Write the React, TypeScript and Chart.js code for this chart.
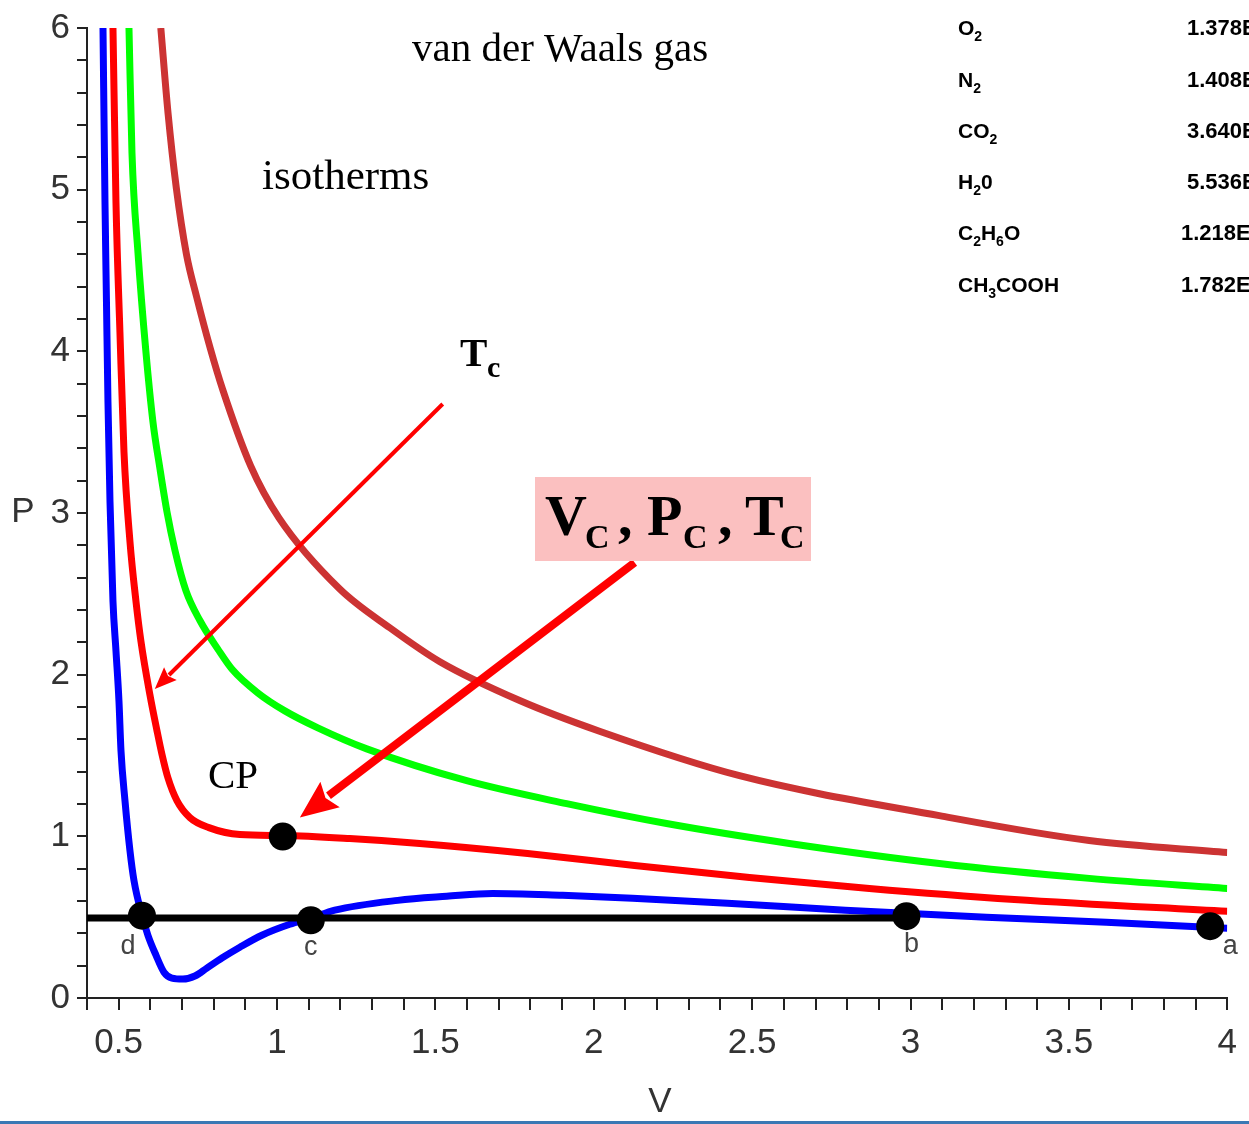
import React, { useEffect, useRef } from 'react';
import { Chart, registerables } from 'chart.js';

Chart.register(...registerables);

// ---------- data (reduced volume V, reduced pressure P) ----------
const blueV = [0.4505, 0.4568, 0.4615, 0.4662, 0.4726, 0.482, 0.4915, 0.5009, 0.5073, 0.5199, 0.5356, 0.5483, 0.5735, 0.5924, 0.6177, 0.6429, 0.6681, 0.7028, 0.7407, 0.7785, 0.8259, 0.8826, 0.9521, 1.0404, 1.1066, 1.1823, 1.3811, 1.5356, 1.6808, 1.9016, 2.1224, 2.4221, 2.7943, 3.2391, 3.6177, 4.0];
const blueP = [6.0, 4.92, 4.303, 3.687, 3.07, 2.454, 2.146, 1.837, 1.529, 1.221, 0.912, 0.727, 0.512, 0.388, 0.265, 0.16, 0.123, 0.117, 0.136, 0.185, 0.247, 0.314, 0.388, 0.456, 0.493, 0.543, 0.604, 0.629, 0.647, 0.635, 0.617, 0.586, 0.543, 0.499, 0.469, 0.432];

const redV = [0.482, 0.4915, 0.504, 0.5167, 0.5356, 0.5546, 0.5703, 0.5987, 0.6208, 0.6366, 0.6555, 0.6839, 0.7249, 0.7849, 0.8826, 1.0183, 1.2296, 1.4505, 1.7912, 2.1287, 2.4915, 2.87, 3.3274, 4.0];
const redP = [6.0, 4.92, 4.118, 3.379, 2.824, 2.454, 2.207, 1.875, 1.655, 1.508, 1.362, 1.221, 1.116, 1.054, 1.011, 1.005, 0.986, 0.956, 0.894, 0.82, 0.746, 0.678, 0.61, 0.536];

const greenV = [0.5325, 0.542, 0.5609, 0.5861, 0.6082, 0.6303, 0.6524, 0.6776, 0.7123, 0.7565, 0.8132, 0.8574, 0.9394, 1.0246, 1.1287, 1.2833, 1.5987, 1.9142, 2.2297, 2.6177, 3.0909, 3.564, 4.0];
const greenP = [6.0, 5.228, 4.612, 3.995, 3.564, 3.274, 3.009, 2.77, 2.52, 2.335, 2.158, 2.035, 1.887, 1.776, 1.671, 1.541, 1.344, 1.202, 1.079, 0.956, 0.832, 0.74, 0.678];

const brownV = [0.633, 0.656, 0.682, 0.714, 0.747, 0.789, 0.829, 0.917, 1.006, 1.198, 1.356, 1.514, 1.766, 2.018, 2.46, 3.091, 3.564, 4.0];
const brownP = [6.0, 5.47, 5.01, 4.6, 4.33, 4.02, 3.76, 3.29, 2.97, 2.53, 2.29, 2.08, 1.84, 1.65, 1.375, 1.128, 0.974, 0.9];

const tieLineV = [0.4, 2.987];
const tieLineP = [0.495, 0.495];

const markerV = [0.5735, 1.1066, 1.018, 2.987, 3.946];
const markerP = [0.509, 0.481, 0.999, 0.506, 0.444];
const markerNames = ['d', 'c', '', 'b', 'a'];

const xLabelValues = [0.5, 1, 1.5, 2, 2.5, 3, 3.5, 4];
const yLabelValues = [0, 1, 2, 3, 4, 5, 6];

const gasNames: { t: string; sub?: boolean }[][] = [
  [{ t: 'O' }, { t: '2', sub: true }],
  [{ t: 'N' }, { t: '2', sub: true }],
  [{ t: 'CO' }, { t: '2', sub: true }],
  [{ t: 'H' }, { t: '2', sub: true }, { t: '0' }],
  [{ t: 'C' }, { t: '2', sub: true }, { t: 'H' }, { t: '6', sub: true }, { t: 'O' }],
  [{ t: 'CH' }, { t: '3', sub: true }, { t: 'COOH' }],
];
const gasValues = ['1.378E', '1.408E', '3.640E', '5.536E', '1.218E', '1.782E'];

// ---------- styles / layout (not data) ----------
const SANS = '"Liberation Sans", Arial, sans-serif';
const SERIF = '"Liberation Serif", "Times New Roman", serif';
const AXIS_COLOR = '#222';
const TEXT_COLOR = '#333';
const markerLabelOffsets: [number, number][] = [[-14, 31], [0, 27], [0, 0], [5, 28], [20, 20]];
const gasRowBaselines = [35, 87, 138, 189, 240, 292];
const gasValueX = [1187, 1187, 1187, 1187, 1181, 1181];

const toPoints = (xs: number[], ys: number[]) => xs.map((x, i) => ({ x, y: ys[i] }));

function drawRich(ctx: CanvasRenderingContext2D, x: number, y: number, parts: { t: string; sub?: boolean }[], mainFont: string, subFont: string, subDy: number) {
  let cx = x;
  for (const p of parts) {
    ctx.font = p.sub ? subFont : mainFont;
    ctx.fillText(p.t, cx, p.sub ? y + subDy : y);
    cx += ctx.measureText(p.t).width;
  }
}

function arrow(ctx: CanvasRenderingContext2D, x1: number, y1: number, x2: number, y2: number, width: number, headLen: number, headWidth: number, color: string) {
  const ang = Math.atan2(y2 - y1, x2 - x1);
  const c = Math.cos(ang), s = Math.sin(ang);
  const bx = x2 - headLen * c, by = y2 - headLen * s;
  ctx.strokeStyle = color;
  ctx.lineWidth = width;
  ctx.lineCap = 'butt';
  ctx.beginPath();
  ctx.moveTo(x1, y1);
  ctx.lineTo(bx + 2 * c, by + 2 * s);
  ctx.stroke();
  ctx.fillStyle = color;
  ctx.beginPath();
  ctx.moveTo(x2, y2);
  ctx.lineTo(bx + (headWidth / 2) * s, by - (headWidth / 2) * c);
  ctx.lineTo(bx + headLen * 0.15 * c, by + headLen * 0.15 * s);
  ctx.lineTo(bx - (headWidth / 2) * s, by + (headWidth / 2) * c);
  ctx.closePath();
  ctx.fill();
}

const annotationPlugin = {
  id: 'vdwAnnotations',
  afterDraw(chart: any) {
    const ctx: CanvasRenderingContext2D = chart.ctx;
    const xs = chart.scales.x;
    const ys = chart.scales.y;
    const px = (v: number) => xs.getPixelForValue(v);
    const py = (p: number) => ys.getPixelForValue(p);
    ctx.save();

    // bottom rule
    ctx.fillStyle = '#3a78b4';
    ctx.fillRect(0, 1121, 1249, 3);

    // axis titles
    ctx.fillStyle = TEXT_COLOR;
    ctx.font = `35px ${SANS}`;
    ctx.textAlign = 'center';
    ctx.textBaseline = 'middle';
    ctx.fillText('P', 23, 512);
    ctx.fillText('V', 660, 1102);

    // marker letters
    ctx.font = `27px ${SANS}`;
    ctx.fillStyle = '#444';
    markerNames.forEach((n, i) => {
      if (!n) return;
      const [dx, dy] = markerLabelOffsets[i];
      ctx.fillText(n, px(markerV[i]) + dx, py(markerP[i]) + dy);
    });

    // arrows
    arrow(ctx, px(1.523), py(3.674), px(0.614), py(1.911), 4, 22, 18, '#ff0000');
    arrow(ctx, px(2.129), py(2.694), px(1.072), py(1.116), 8, 38, 32, '#ff0000');

    // serif annotations
    ctx.textAlign = 'left';
    ctx.textBaseline = 'alphabetic';
    ctx.fillStyle = '#000';
    ctx.font = `41px ${SERIF}`;
    ctx.fillText('van der Waals gas', 412, 61);
    ctx.font = `43px ${SERIF}`;
    ctx.fillText('isotherms', 262, 189);
    ctx.font = `41px ${SERIF}`;
    ctx.fillText('CP', 208, 788);
    ctx.font = `bold 41px ${SERIF}`;
    ctx.fillText('T', 460, 366);
    ctx.font = `bold 30px ${SERIF}`;
    ctx.fillText('c', 487, 377);

    // pink box
    ctx.fillStyle = '#fbc0c0';
    ctx.fillRect(535, 477, 276, 84);
    ctx.fillStyle = '#000';
    const big = `bold 58px ${SERIF}`;
    const small = `bold 34px ${SERIF}`;
    const pieces: [string, number, boolean][] = [['V', 545, false], ['C', 585, true], [',', 618, false], ['P', 647, false], ['C', 683, true], [',', 718, false], ['T', 745, false], ['C', 780, true]];
    pieces.forEach(([t, x, sub]) => {
      ctx.font = sub ? small : big;
      ctx.fillText(t, x, sub ? 548 : 535);
    });

    // table
    ctx.fillStyle = '#000';
    gasNames.forEach((parts, i) => {
      drawRich(ctx, 958, gasRowBaselines[i], parts, `bold 21px ${SANS}`, `bold 14px ${SANS}`, 6);
      ctx.font = `bold 22px ${SANS}`;
      ctx.fillText(gasValues[i], gasValueX[i], gasRowBaselines[i]);
    });

    ctx.restore();
  },
};

const lineStyle = (color: string) => ({
  borderColor: color,
  backgroundColor: color,
  borderWidth: 7,
  pointRadius: 0,
  fill: false,
  cubicInterpolationMode: 'monotone' as const,
});

export default function App() {
  const ref = useRef<HTMLCanvasElement>(null);

  useEffect(() => {
    const canvas = ref.current;
    if (!canvas) return;
    const chart = new Chart(canvas, {
      type: 'line',
      data: {
        datasets: [
          {
            type: 'scatter',
            label: 'points',
            data: toPoints(markerV, markerP),
            pointRadius: 14,
            pointBackgroundColor: '#000',
            pointBorderWidth: 0,
            showLine: false,
          } as any,
          { label: 'tie line', data: toPoints(tieLineV, tieLineP), borderColor: '#000', borderWidth: 7, pointRadius: 0, fill: false },
          { label: 'T < Tc', data: toPoints(blueV, blueP), ...lineStyle('#0000ff') },
          { label: 'Tc', data: toPoints(redV, redP), ...lineStyle('#ff0000') },
          { label: 'T > Tc', data: toPoints(greenV, greenP), ...lineStyle('#00ff00') },
          { label: 'T >> Tc', data: toPoints(brownV, brownP), ...lineStyle('#cc3333') },
        ],
      },
      options: {
        animation: false,
        responsive: false,
        devicePixelRatio: 1,
        layout: { padding: { left: 0, right: 21, top: 25, bottom: 0 } },
        plugins: { legend: { display: false }, tooltip: { enabled: false } },
        scales: {
          x: {
            type: 'linear',
            min: 0.4,
            max: 4,
            afterFit: (s: any) => {
              s.height = 126;
            },
            ticks: {
              stepSize: 0.1,
              maxTicksLimit: 100,
              autoSkip: false,
              maxRotation: 0,
              padding: 12,
              color: TEXT_COLOR,
              font: { family: SANS, size: 35 },
              callback: (v: any) => {
                const val = Number(v);
                return xLabelValues.some((l) => Math.abs(l - val) < 1e-6) ? String(Math.round(val * 10) / 10) : '';
              },
            },
            grid: { drawOnChartArea: false, drawTicks: true, tickLength: 12, color: AXIS_COLOR, lineWidth: 2 },
            border: { display: true, color: AXIS_COLOR, width: 2 },
          },
          y: {
            type: 'linear',
            min: 0,
            max: 6,
            afterFit: (s: any) => {
              s.width = 87;
            },
            ticks: {
              stepSize: 0.2,
              maxTicksLimit: 100,
              autoSkip: false,
              padding: 7,
              color: TEXT_COLOR,
              font: { family: SANS, size: 35 },
              callback: (v: any) => {
                const val = Number(v);
                return yLabelValues.some((l) => Math.abs(l - val) < 1e-6) ? String(Math.round(val)) : '';
              },
            },
            grid: { drawOnChartArea: false, drawTicks: true, tickLength: 10, color: AXIS_COLOR, lineWidth: 2 },
            border: { display: true, color: AXIS_COLOR, width: 2 },
          },
        },
      } as any,
      plugins: [annotationPlugin],
    });
    return () => chart.destroy();
  }, []);

  return (
    <div style={{ position: 'absolute', left: 0, top: 0, width: 1249, height: 1124, background: '#fff' }}>
      <canvas ref={ref} width={1249} height={1124} style={{ display: 'block', width: 1249, height: 1124 }} />
    </div>
  );
}
